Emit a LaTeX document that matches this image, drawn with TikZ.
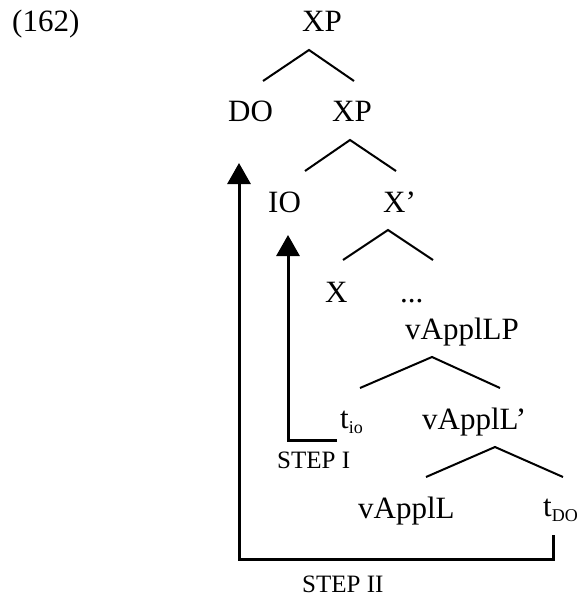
\documentclass[tikz,border=0pt]{standalone}
\usepackage{fontspec}
\setmainfont{Liberation Serif}
\usetikzlibrary{arrows.meta}

\tikzset{
  lbl/.style={anchor=base west, inner sep=0pt, font=\fontsize{31}{36}\selectfont},
  steplbl/.style={anchor=base west, inner sep=0pt, font=\fontsize{25}{30}\selectfont},
  branch/.style={line width=2pt},
  move/.style={line width=3pt, line join=miter, -{Triangle[width=23pt,length=21pt]}}
}
\newcommand{\lowsub}[1]{\raisebox{-5pt}{\fontsize{18}{20}\selectfont #1}}

\begin{document}
\begin{tikzpicture}[x=1pt,y=-1pt]
\useasboundingbox (0,0) rectangle (578,596);

\node[lbl] (ex) at (12, 32) {(162)};

\node[lbl] (xp) at (302, 32) {XP};

\node[lbl] (do) at (228, 122) {DO};
\node[lbl] (xpb) at (332, 122) {XP};

\node[lbl] (io) at (268, 212) {IO};
\node[lbl] (xbar) at (383, 212) {X’};

\node[lbl] (x) at (325, 302) {X};
\node[lbl] (dots) at (400, 302) {...};

\node[lbl] (vlp) at (405, 339) {vApplLP};

\node[lbl] (tio) at (340, 428) {t\lowsub{io}};
\node[lbl] (vlbar) at (422, 429) {vApplL’};

\node[lbl] (vl) at (358, 518) {vApplL};
\node[lbl] (tdo) at (543, 516) {t\lowsub{DO}};

\node[steplbl] (stepa) at (277, 468) {STEP I};
\node[steplbl] (stepb) at (302, 592) {STEP II};

% branches
\coordinate (a1) at (309, 50);
\coordinate (a2) at (350, 140);
\coordinate (a3) at (388, 230);
\coordinate (a4) at (432, 357);
\coordinate (a5) at (495, 447);

\draw[branch] (a1) ++(-46, 31) -- (a1) -- ++(45, 31);
\draw[branch] (a2) ++(-45, 31) -- (a2) -- ++(46, 31);
\draw[branch] (a3) ++(-45, 30) -- (a3) -- ++(45, 30);
\draw[branch] (a4) ++(-72, 31) -- (a4) -- ++(68, 31);
\draw[branch] (a5) ++(-69, 30) -- (a5) -- ++(68, 30);

% movement
\coordinate (s1) at (337, 440);
\coordinate (c1) at (288, 440);
\coordinate (e1) at (288, 235);
\draw[move] (s1) -- (c1) -- (e1);

\coordinate (s2) at (553, 535);
\coordinate (c2) at (239, 559);
\coordinate (e2) at (239, 163);
\draw[move] (s2) |- (c2) -- (e2);
\end{tikzpicture}
\end{document}
